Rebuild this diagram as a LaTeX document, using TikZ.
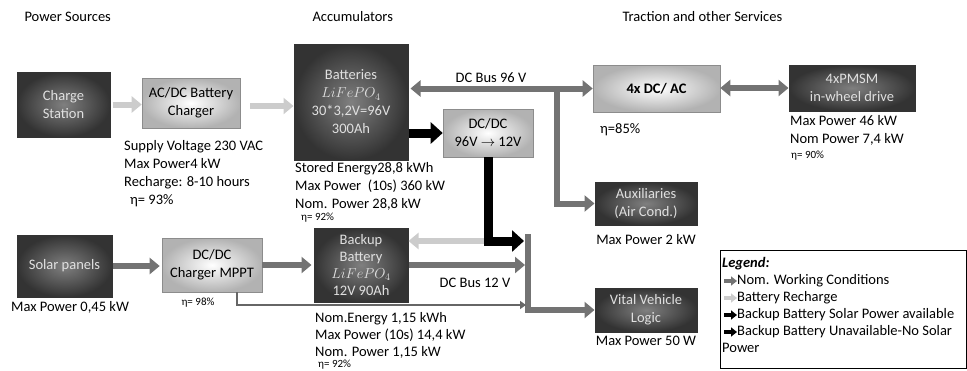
\documentclass[tikz,border=0pt]{standalone}
\usepackage{fontspec}
\setmainfont{Carlito}
\usetikzlibrary{arrows.meta}

\tikzset{
  darkbox/.style={draw=black!80, line width=1pt, inner color=black!50, outer color=black!80,
    text=white!88!black, align=center, inner sep=2pt},
  lightbox/.style={draw=black!45, line width=0.6pt, inner color=white, outer color=black!30,
    align=center, inner sep=2pt},
  grayarrow/.style={draw=black!55, line width=6pt, -{Triangle[length=10pt,width=16pt]}},
  lightarrow/.style={draw=black!20, line width=6pt, -{Triangle[length=10pt,width=16pt]}},
  blackarrow/.style={draw=black, line width=9pt, -{Triangle[length=12pt,width=21pt]}},
  bothways/.style={draw=black!55, line width=6pt,
    {Triangle[length=10pt,width=16pt]}-{Triangle[length=10pt,width=16pt]}},
  thinarrow/.style={draw=black!60, line width=2.2pt, -{Triangle[length=6pt,width=8pt]}},
  legarrow/.style={line width=3.5pt, -{Triangle[length=6pt,width=9pt]}},
  info/.style={anchor=north west, align=left, inner sep=0pt},
  etasmall/.style={font=\fontsize{11}{12}\selectfont, inner sep=0pt},
}

\begin{document}
\begin{tikzpicture}[x=1pt, y=-1pt, font=\fontsize{14.5}{18}\selectfont]
  \useasboundingbox (0,0) rectangle (967,370);

  \node[anchor=west] (hsrc) at (21,17) {Power Sources};
  \node[anchor=west] (hacc) at (309,17) {Accumulators};
  \node[anchor=west] (htrac) at (619,17) {Traction and other Services};

  \node[darkbox, minimum width=93pt, minimum height=65pt] (charge) at (63.5,104.5) {Charge\\Station};
  \node[lightbox, minimum width=98pt, minimum height=50pt] (acdc) at (191,103) {AC/DC Battery\\Charger};
  \node[darkbox, minimum width=114pt, minimum height=116pt] (batt) at (351,102)
    {Batteries\\$LiFePO_4$\\30*3,2V=96V\\300Ah};
  \node[lightbox, minimum width=90pt, minimum height=48pt] (dcdc) at (488,133) {DC/DC\\96V $\rightarrow$ 12V};
  \node[lightbox, minimum width=127pt, minimum height=47pt] (dcac) at (656.5,88.5) {\textbf{4x DC/ AC}};
  \node[darkbox, minimum width=126pt, minimum height=46pt] (pmsm) at (852,88) {4xPMSM\\in-wheel drive};
  \node[darkbox, minimum width=102pt, minimum height=43pt] (aux) at (646,203.5) {Auxiliaries\\(Air Cond.)};
  \node[darkbox, minimum width=102pt, minimum height=44pt] (vital) at (646,310) {Vital Vehicle\\Logic};
  \node[darkbox, minimum width=95pt, minimum height=62pt] (solar) at (64.5,266) {Solar panels};
  \node[lightbox, minimum width=100pt, minimum height=54pt] (mppt) at (212,265) {DC/DC\\Charger MPPT};
  \node[darkbox, minimum width=94pt, minimum height=74pt, font=\fontsize{14.5}{17}\selectfont] (backup) at (361,265)
    {Backup\\Battery\\$LiFePO_4$\\12V 90Ah};

  \coordinate (split96) at (557,88.5);
  \coordinate (bus12top) at (528,234);
  \coordinate (bus12in) at (524,241);
  \coordinate (thinend) at (526,305);

  \draw[lightarrow, shorten <=2pt] (charge.east) -- (charge.east -| acdc.west);
  \draw[lightarrow, shorten <=10pt] (acdc.east |- 0,106) -- (batt.west |- 0,106);
  \draw[bothways, shorten <=2pt] (batt.east |- dcac.west) -- (dcac.west);
  \draw[grayarrow] (split96) |- (aux.west);
  \draw[bothways] (dcac.east |- pmsm.west) -- (pmsm.west);
  \draw[blackarrow] (batt.east |- dcdc.west) -- (dcdc.west);
  \draw[lightarrow] (dcdc.south |- bus12in) -- (backup.east |- bus12in);
  \draw[blackarrow] (dcdc.south) |- (bus12in);
  \draw[grayarrow] (bus12top) |- (vital.west);
  \draw[grayarrow, shorten >=3pt] (backup.east) -- (backup.east -| bus12top);
  \draw[grayarrow, shorten >=2pt] (solar.east) -- (solar.east -| mppt.west);
  \draw[grayarrow, shorten >=2pt] (mppt.east) -- (mppt.east -| backup.west);
  \draw[thinarrow] ([xshift=25pt]mppt.south) |- (thinend);

  \node (bus96) at (491,78) {DC Bus 96 V};
  \node (bus12) at (475,283) {DC Bus 12 V};

  \node[info] (acdcinfo) at (124,140) {Supply Voltage 230 VAC\\Max Power4 kW\\Recharge: 8-10 hours\\\hspace*{6pt}η= 93\%};
  \node[info] (battinfo) at (295,162) {Stored Energy28,8 kWh\\Max Power~ (10s) 360 kW\\Nom. Power 28,8 kW};
  \node[etasmall, anchor=west] (battEta) at (301,218) {η= 92\%};
  \node[anchor=west, inner sep=0pt] (dcacEta) at (600,130) {η=85\%};
  \node[info] (pmsminfo) at (790,115) {Max Power 46 kW\\Nom Power 7,4 kW};
  \node[etasmall, anchor=west] (pmsmEta) at (791,156) {η= 90\%};
  \node (auxinfo) at (646,240) {Max Power 2 kW};
  \node (vitalinfo) at (646,341) {Max Power 50 W};
  \node (solarinfo) at (70,307) {Max Power 0,45 kW};
  \node[etasmall] (mpptEta) at (198,303) {η= 98\%};
  \node[info, font=\fontsize{14.5}{17}\selectfont] (backupinfo) at (315,312)
    {Nom.Energy 1,15 kWh\\Max Power (10s) 14,4 kW\\Nom. Power 1,15 kW};
  \node[etasmall, anchor=west] (backupEta) at (318,365) {η= 92\%};

  \node[draw=black, line width=0.6pt, anchor=north west, minimum width=246pt, minimum height=118pt]
    (legend) at (720,250) {};
  \node[info, font=\fontsize{14.5}{17}\selectfont] (legendtext) at (722,257) {\textbf{\textit{Legend:}}\\
    \hspace*{15pt}Nom. Working Conditions\\
    \hspace*{15pt}Battery Recharge\\
    \hspace*{15pt}Backup Battery Solar Power available\\
    \hspace*{15pt}Backup Battery Unavailable-No Solar\\
    Power};
  \foreach \y/\c in {281/black!55, 298/black!20, 315/black, 332/black}
    \draw[legarrow, draw=\c] (724,\y) -- (737,\y);
\end{tikzpicture}
\end{document}
